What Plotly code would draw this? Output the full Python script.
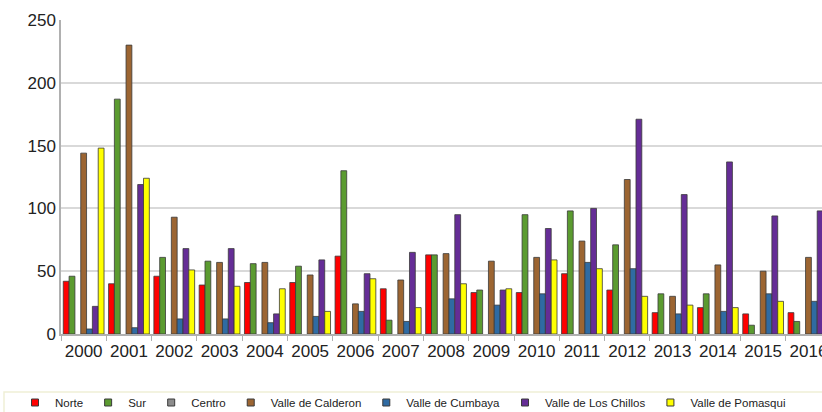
import plotly.graph_objects as go

# Annual counts by zone, 2000-2016
years = [str(y) for y in range(2000, 2017)]

norte = [42, 40, 46, 39, 41, 41, 62, 36, 63, 33, 33, 48, 35, 17, 21, 16, 17]
sur = [46, 187, 61, 58, 56, 54, 130, 11, 63, 35, 95, 98, 71, 32, 32, 7, 10]
centro = [None] * 17
calderon = [144, 230, 93, 57, 57, 47, 24, 43, 64, 58, 61, 74, 123, 30, 55, 50, 61]
cumbaya = [4, 5, 12, 12, 9, 14, 18, 10, 28, 23, 32, 57, 52, 16, 18, 32, 26]
chillos = [22, 119, 68, 68, 16, 59, 48, 65, 95, 35, 84, 100, 171, 111, 137, 94, 98]
pomasqui = [148, 124, 51, 38, 36, 18, 44, 21, 40, 36, 59, 52, 30, 23, 21, 26, None]

series = [
    ("Norte", norte, "#ff0000"),
    ("Sur", sur, "#5b9b30"),
    ("Centro", centro, "#8c8c8c"),
    ("Valle de Calderon", calderon, "#9c6532"),
    ("Valle de Cumbaya", cumbaya, "#2f6ba3"),
    ("Valle de Los Chillos", chillos, "#652d96"),
    ("Valle de Pomasqui", pomasqui, "#ffff00"),
]

fig = go.Figure()
for name, vals, color in series:
    fig.add_trace(go.Bar(
        x=years, y=vals, name=name, legendgroup=name, showlegend=False,
        marker=dict(color=color, line=dict(color="#3a3a3a", width=0.8)),
    ))
# small square keys for the legend
for name, vals, color in series:
    fig.add_trace(go.Scatter(
        x=[None], y=[None], mode="markers", name=name, legendgroup=name,
        marker=dict(symbol="square", size=7, color=color,
                    line=dict(color="#3a3a3a", width=1)),
    ))

W, H = 822, 412
ml, mt, mb = 61, 20, 78
plot_w = W - ml
cat_w = 45.3
x_hi = -0.5 + plot_w / cat_w

fig.update_layout(
    width=W, height=H,
    margin=dict(l=ml, r=0, t=mt, b=mb, autoexpand=False),
    paper_bgcolor="white", plot_bgcolor="white",
    barmode="group", bargap=0.1, bargroupgap=0,
    font=dict(family="Liberation Sans, Arial, sans-serif", color="#333333"),
    xaxis=dict(
        type="category", range=[-0.5, x_hi],
        showline=True, linecolor="#b0b0b0", linewidth=1.5,
        ticks="outside", tickson="boundaries", ticklen=5, tickcolor="#b0b0b0",
        tickfont=dict(size=17, color="#222222"), tickangle=0,
        ticklabelstandoff=1, automargin=False,
        showgrid=False,
    ),
    yaxis=dict(
        range=[0, 250], dtick=50,
        showline=True, linecolor="#b0b0b0", linewidth=1.5,
        gridcolor="#d9d9d9", gridwidth=1.5,
        zeroline=False, automargin=False,
        tickfont=dict(size=17, color="#222222"),
        ticklabelstandoff=0,
    ),
    legend=dict(
        orientation="h", x=(15 - ml) / plot_w, xanchor="left",
        y=(mt + 314 - 388) / 314, yanchor="top",
        font=dict(size=11.5, color="#222222"),
        bgcolor="rgba(0,0,0,0)", traceorder="normal",
        itemwidth=30,
    ),
    shapes=[dict(
        type="rect", xref="paper", yref="paper",
        x0=(4 - ml) / plot_w, x1=(W + 10 - ml) / plot_w,
        y0=(mt + 314 - 392) / 314, y1=(mt + 314 - 425) / 314,
        line=dict(color="#efefd6", width=1.5), fillcolor="rgba(0,0,0,0)",
        layer="below",
    )],
)

fig.write_html("out.html")
